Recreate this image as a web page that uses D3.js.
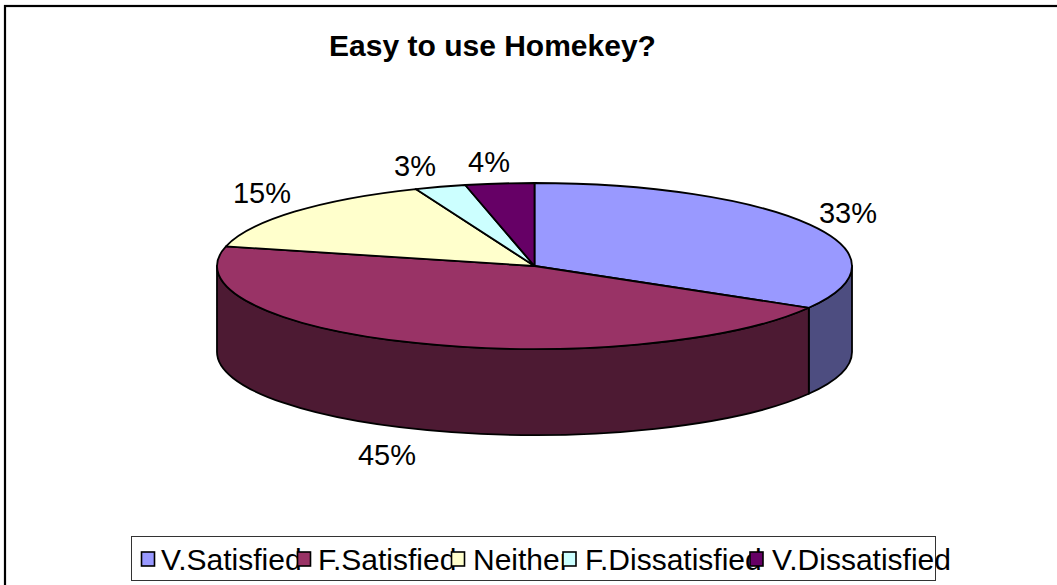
<!DOCTYPE html>
<html><head><meta charset="utf-8">
<script src="https://cdn.jsdelivr.net/npm/d3@7"></script>
<style>html,body{margin:0;padding:0;background:#fff}svg{display:block}text{font-family:"Liberation Sans",Arial,sans-serif;fill:#000}</style>
</head><body><svg id="c" width="1057" height="585"></svg>
<script>
const categories=["V.Satisfied","F.Satisfied","Neither","F.Dissatisfied","V.Dissatisfied"];
const values=[33.4,45.4,15.1,2.6,3.5];
const valueLabels=["33%","45%","15%","3%","4%"];
const topColors=["#9999ff","#993366","#ffffcc","#ccffff","#660066"];
const sideColors=["#4d4d80","#4d1a33","#808066","#668080","#330033"];

const svg=d3.select("#c");
svg.append("rect").attr("x",5).attr("y",6).attr("width",1100).attr("height",620)
  .attr("fill","#fff").attr("stroke","#000").attr("stroke-width",2.2);
svg.append("text").attr("x",492.5).attr("y",56).attr("text-anchor","middle")
  .attr("font-size",30).attr("font-weight","bold").text("Easy to use Homekey?");

const cx=534.5,cy=266,rx=317.5,ry=83,depth=86;
const X=d3.scaleLinear().domain([-1,1]).range([cx-rx,cx+rx]);
const Y=d3.scaleLinear().domain([-1,1]).range([cy-ry,cy+ry]);
const pie=d3.pie().sort(null)(values);
const px=a=>X(Math.sin(a)), py=a=>Y(-Math.cos(a));
const arcTo=(a,b,dy,sw)=>`A${rx},${ry} 0 ${Math.abs(b-a)>Math.PI?1:0} ${sw} ${px(b)},${py(b)+dy}`;

const lo=Math.PI/2, hi=3*Math.PI/2;
pie.forEach((d,i)=>{
  const a=Math.max(d.startAngle,lo), b=Math.min(d.endAngle,hi);
  if(b<=a) return;
  svg.append("path")
    .attr("d",`M${px(a)},${py(a)}${arcTo(a,b,0,1)}L${px(b)},${py(b)+depth}${arcTo(b,a,depth,0)}Z`)
    .attr("fill",sideColors[i]).attr("stroke","#000").attr("stroke-width",1.8).attr("stroke-linejoin","round");
});
pie.forEach((d,i)=>{
  svg.append("path")
    .attr("d",`M${cx},${cy}L${px(d.startAngle)},${py(d.startAngle)}${arcTo(d.startAngle,d.endAngle,0,1)}Z`)
    .attr("fill",topColors[i]).attr("stroke","#000").attr("stroke-width",1.8).attr("stroke-linejoin","round");
});
const labelX=[848,387,262,415,489], labelY=[223,465,203,176,172];
valueLabels.forEach((t,i)=>{
  svg.append("text").attr("x",labelX[i]).attr("y",labelY[i]).attr("text-anchor","middle")
    .attr("font-size",29).text(t);
});
svg.append("rect").attr("x",131.5).attr("y",536.5).attr("width",804).attr("height",44)
  .attr("fill","#fff").attr("stroke","#333").attr("stroke-width",1);
const swX=[141.5,297.5,451.5,563,750], txX=[161,318,473,585,772];
categories.forEach((t,i)=>{
  svg.append("text").attr("x",txX[i]).attr("y",570).attr("font-size",30).text(t);
});
categories.forEach((t,i)=>{
  svg.append("rect").attr("x",swX[i]).attr("y",552).attr("width",13).attr("height",14)
    .attr("fill",topColors[i]).attr("stroke","#000").attr("stroke-width",1.6);
});
</script></body></html>
